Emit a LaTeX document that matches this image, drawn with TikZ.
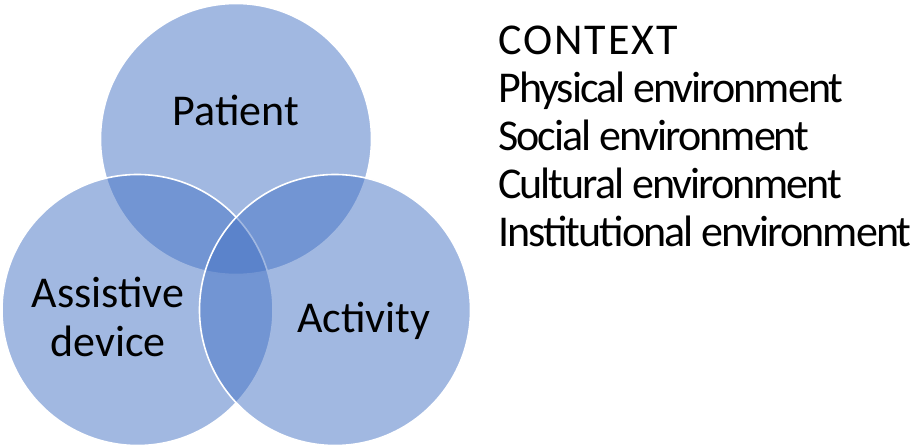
\documentclass[tikz,border=0pt]{standalone}
\usepackage{fontspec}
\setmainfont{Carlito}
\newfontfamily\narrowfont[LetterSpace=-4.5]{Carlito}
\newfontfamily\widefont[LetterSpace=4.5]{Carlito}
\definecolor{setblue}{HTML}{4472C4}
\begin{document}
\begin{tikzpicture}[x=1pt, y=-1pt,
    setcircle/.style={circle, minimum size=271pt, inner sep=0pt, fill=setblue,
      fill opacity=0.5, draw=white, draw opacity=1, line width=1.6pt},
    settext/.style={font=\fontsize{44}{49}\selectfont, inner sep=0pt}]
  \useasboundingbox (0,0) rectangle (914,447);

  \node[setcircle] (patient) at (236,139) {};
  \node[setcircle] (device) at (137.5,310) {};
  \node[setcircle] (activity) at (335,310) {};

  \node[settext, anchor=base] (patientname) at (236,125) {Patient};
  \node[settext, align=center, anchor=base] (devicename) at (108,356) {Assistive\\device};
  \node[settext, anchor=base] (activityname) at (364,332) {Activity};

  \node[settext, font=\narrowfont\fontsize{44}{48}\selectfont, align=left, anchor=base west] (context) at (498,246)
    {\widefont CONTEXT\\Physical environment\\Social environment\\Cultural environment\\Institutional environment};
\end{tikzpicture}
\end{document}
